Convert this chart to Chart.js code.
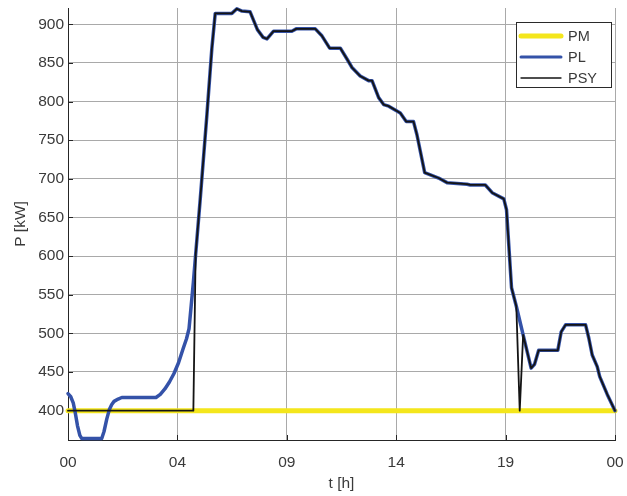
<!DOCTYPE html>
<html>
<head>
<meta charset="utf-8">
<script src="https://cdn.jsdelivr.net/npm/chart.js@4.4.1/dist/chart.umd.min.js"></script>
<style>
  html, body { margin: 0; padding: 0; background: #ffffff; }
  canvas { display: block; }
</style>
</head>
<body>
<canvas id="chart" width="627" height="496"></canvas>
<script>
// Power balance over one day (hours 0..24)
const xTickHours  = [0, 4.8, 9.6, 14.4, 19.2, 24];
const xTickLabels = ['00', '04', '09', '14', '19', '00'];
const yTickValues = [400, 450, 500, 550, 600, 650, 700, 750, 800, 850, 900];

// PM: constant supply level
const pmHours  = [0, 24];
const pmValues = [400, 400];

// PL: load profile
const plHours = [0, 0.12, 0.23, 0.32, 0.42, 0.52, 0.60, 1.48, 1.58, 1.70, 1.81, 1.92, 2.02, 2.20, 2.36,
  3.86, 4.05, 4.25, 4.45, 4.65, 4.85, 5.05, 5.20, 5.31,
  5.50, 5.60, 5.80, 6.09, 6.31, 6.46, 7.19, 7.41, 7.63, 7.99, 8.31, 8.56, 8.73, 9.02, 9.82, 10.01,
  10.85, 11.14, 11.48, 11.95, 12.24, 12.46, 12.82, 13.19, 13.34, 13.63, 13.85, 14.07, 14.58, 14.84,
  15.16, 15.31, 15.65, 16.26, 16.63, 17.51, 17.65, 18.31, 18.61, 19.12, 19.24, 19.46, 19.67, 19.97,
  20.32, 20.47, 20.65, 21.49, 21.64, 21.83, 22.71, 22.85, 23.00, 23.22, 23.33, 23.66, 24.00];
const plValues = [422, 418, 410, 397, 380, 368, 364, 364, 373, 389, 401, 408, 412, 415, 417,
  417, 421, 428, 437, 448, 462, 480, 493, 506,
  566, 602, 673, 781, 868, 914, 914, 920, 917, 916, 893, 883, 881, 891, 891, 894,
  894, 885, 869, 869, 855, 844, 833, 827, 827, 805, 796, 794, 785, 774,
  774, 757, 708, 701, 695, 693, 692, 692, 682, 674, 660, 559, 535, 498,
  455, 460, 478, 478, 502, 511, 511, 494, 472, 457, 444, 421, 400];

// PSY: system power, held at 400 until the switch-on, then following the load
const psyHours = [0, 5.50, 5.60, 5.80, 6.09, 6.31, 6.46, 7.19, 7.41, 7.63, 7.99, 8.31, 8.56, 8.73, 9.02,
  9.82, 10.01, 10.85, 11.14, 11.48, 11.95, 12.24, 12.46, 12.82, 13.19, 13.34, 13.63, 13.85, 14.07,
  14.58, 14.84, 15.16, 15.31, 15.65, 16.26, 16.63, 17.51, 17.65, 18.31, 18.61, 19.12, 19.24, 19.46,
  19.67, 19.82, 19.97, 20.32, 20.47, 20.65, 21.49, 21.64, 21.83, 22.71, 22.85, 23.00, 23.22, 23.33,
  23.66, 24.00];
const psyValues = [400, 400, 602, 673, 781, 868, 914, 914, 920, 917, 916, 893, 883, 881, 891,
  891, 894, 894, 885, 869, 869, 855, 844, 833, 827, 827, 805, 796, 794,
  785, 774, 774, 757, 708, 701, 695, 693, 692, 692, 682, 674, 660, 559,
  535, 400, 498, 455, 460, 478, 478, 502, 511, 511, 494, 472, 457, 444,
  421, 400];

const seriesLabels = ['PM', 'PL', 'PSY'];
const seriesColors = ['#f4e61c', '#3452a8', '#141414'];
const seriesWidths = [5, 3.5, 1.8];
const legendWidths = [5, 3, 1.3];

const FONT = '"Liberation Sans", Arial, Helvetica, sans-serif';
const TEXT = '#3a3a3a';
const AXIS = '#262626';
const GRID = '#a9a9a9';

const toPoints = (xs, ys) => xs.map((x, i) => ({ x: x, y: ys[i] }));

// short tick marks drawn inward from the axes
const inwardTicks = {
  id: 'inwardTicks',
  beforeDatasetsDraw(chart) {
    const { ctx, chartArea: a, scales } = chart;
    ctx.save();
    ctx.strokeStyle = AXIS;
    ctx.lineWidth = 1;
    ctx.beginPath();
    yTickValues.forEach(v => {
      const y = Math.round(scales.y.getPixelForValue(v)) + 0.5;
      ctx.moveTo(a.left, y); ctx.lineTo(a.left + 5, y);
    });
    xTickHours.forEach(h => {
      const x = Math.round(scales.x.getPixelForValue(h)) + 0.5;
      ctx.moveTo(x, a.bottom); ctx.lineTo(x, a.bottom - 5);
    });
    ctx.stroke();
    ctx.restore();
  }
};

// boxed legend in the upper right corner of the plot
const boxLegend = {
  id: 'boxLegend',
  afterDraw(chart) {
    const { ctx } = chart;
    const left = 516.5, top = 22.5, w = 95, h = 65;
    ctx.save();
    ctx.fillStyle = '#ffffff';
    ctx.fillRect(left, top, w, h);
    ctx.strokeStyle = '#2a2a2a';
    ctx.lineWidth = 1;
    ctx.strokeRect(left, top, w, h);
    ctx.font = '14.5px ' + FONT;
    ctx.textBaseline = 'middle';
    ctx.textAlign = 'left';
    chart.data.datasets.forEach((ds, i) => {
      const y = 36 + i * 21;
      ctx.strokeStyle = ds.borderColor;
      ctx.lineWidth = legendWidths[i];
      ctx.lineCap = 'round';
      ctx.beginPath();
      ctx.moveTo(521, y); ctx.lineTo(561, y);
      ctx.stroke();
      ctx.fillStyle = TEXT;
      ctx.fillText(ds.label, 568, y + 1);
    });
    ctx.restore();
  }
};

new Chart(document.getElementById('chart'), {
  type: 'line',
  data: {
    datasets: [
      { label: seriesLabels[0], data: toPoints(pmHours, pmValues),
        borderColor: seriesColors[0], borderWidth: seriesWidths[0], order: 3 },
      { label: seriesLabels[1], data: toPoints(plHours, plValues),
        borderColor: seriesColors[1], borderWidth: seriesWidths[1], order: 2 },
      { label: seriesLabels[2], data: toPoints(psyHours, psyValues),
        borderColor: seriesColors[2], borderWidth: seriesWidths[2], order: 1 }
    ]
  },
  options: {
    responsive: false,
    animation: false,
    devicePixelRatio: 1,
    layout: { padding: { top: 8, right: 12, bottom: 0, left: 0 } },
    elements: {
      point: { radius: 0, hoverRadius: 0 },
      line: { tension: 0, fill: false, borderJoinStyle: 'round', borderCapStyle: 'round' }
    },
    datasets: { line: { clip: 4 } },
    plugins: { legend: { display: false }, tooltip: { enabled: false } },
    scales: {
      x: {
        type: 'linear',
        min: 0, max: 24,
        afterBuildTicks: s => { s.ticks = xTickHours.map(v => ({ value: v })); },
        afterFit: s => { s.height = 56; s.paddingLeft = 0; s.paddingRight = 0; },
        ticks: {
          autoSkip: false, maxRotation: 0, padding: 13,
          color: TEXT, font: { family: FONT, size: 15.5 },
          callback: (v, i) => xTickLabels[i]
        },
        grid: { color: GRID, lineWidth: 1, drawTicks: false },
        border: { display: true, color: AXIS, width: 1 },
        title: { display: true, text: 't [h]', color: TEXT,
                 font: { family: FONT, size: 15.5 }, padding: { top: 0, bottom: 3 } }
      },
      y: {
        type: 'linear',
        min: 362, max: 921,
        afterBuildTicks: s => { s.ticks = yTickValues.map(v => ({ value: v })); },
        afterFit: s => { s.width = 68; s.paddingTop = 0; s.paddingBottom = 0; },
        ticks: {
          padding: 4, color: TEXT, font: { family: FONT, size: 15.5 }
        },
        grid: { color: GRID, lineWidth: 1, drawTicks: false },
        border: { display: true, color: AXIS, width: 1 },
        title: { display: true, text: 'P [kW]', color: TEXT,
                 font: { family: FONT, size: 15.5 }, padding: { top: 11, bottom: 0 } }
      }
    }
  },
  plugins: [inwardTicks, boxLegend]
});
</script>
</body>
</html>
